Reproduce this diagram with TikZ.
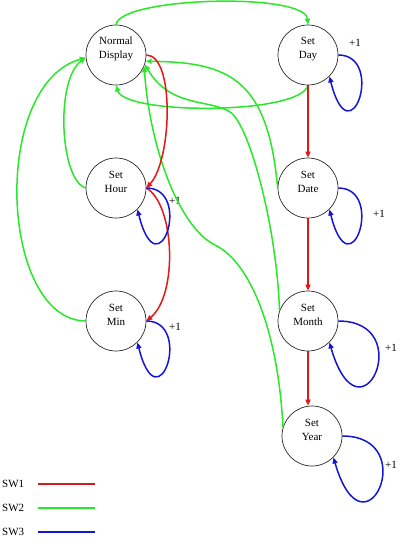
\documentclass[tikz,border=0pt]{standalone}
\usepackage{fontspec}
\setmainfont{Liberation Serif}
\usetikzlibrary{arrows.meta}
\definecolor{swred}{RGB}{228,22,22}
\definecolor{swgreen}{RGB}{40,232,40}
\definecolor{swblue}{RGB}{20,20,212}
\definecolor{legred}{RGB}{205,30,30}
\begin{document}
\begin{tikzpicture}[x=1pt,y=-1pt,
  state/.style={circle,draw=black!85,line width=0.7pt,minimum size=60pt,inner sep=0pt},
  lbl/.style={align=center,font=\fontsize{11}{14}\selectfont,inner sep=0pt},
  plus/.style={font=\fontsize{11}{13}\selectfont,inner sep=0pt},
  tipped/.style={-{Triangle[length=6pt,width=5pt]}},
  redge/.style={draw=swred,line width=1.5pt,tipped},
  gedge/.style={draw=swgreen,line width=1.5pt,tipped},
  bedge/.style={draw=swblue,line width=1.5pt,tipped},
  legline/.style={line width=2pt}
]
\useasboundingbox (0,0) rectangle (412,552);

% states
\node[state] (disp) at (116,55) {};
\node[state] (day) at (308,55) {};
\node[state] (hour) at (116,188) {};
\node[state] (date) at (308,188) {};
\node[state] (min) at (116,321) {};
\node[state] (month) at (308,321) {};
\node[state] (year) at (312,436) {};

\node[lbl] (dispT) at ([yshift=6pt]disp.center) {Normal\\Display};
\node[lbl] (dayT) at ([yshift=6pt]day.center) {Set\\Day};
\node[lbl] (hourT) at ([yshift=6pt]hour.center) {Set\\Hour};
\node[lbl] (dateT) at ([yshift=6pt]date.center) {Set\\Date};
\node[lbl] (minT) at ([yshift=6pt]min.center) {Set\\Min};
\node[lbl] (monthT) at ([yshift=6pt]month.center) {Set\\Month};
\node[lbl] (yearT) at ([yshift=6pt]year.center) {Set\\Year};

% +1 labels
\node[plus] (p1) at (355,43) {+1};
\node[plus] (p2) at (175,201) {+1};
\node[plus] (p3) at (379,214) {+1};
\node[plus] (p4) at (175,327) {+1};
\node[plus] (p5) at (391,348) {+1};
\node[plus] (p6) at (391,465) {+1};

% bend points
\coordinate (mbend) at (230,112);
\coordinate (ybend) at (215,245);

% green (SW2)
\draw[gedge] (disp.north) .. controls (120,-3) and (305,-8) .. (day.north);
\draw[gedge] (day.south) .. controls (300,115) and (125,115) .. (disp.south);
\draw[gedge] (hour.west) .. controls (60,180) and (55,80) .. (disp.185);
\draw[gedge] (min.west) .. controls (0,320) and (-10,85) .. (disp.185);
\draw[gedge] (date.west) .. controls (268,80) and (230,62) .. (disp.-12);
\draw[gedge] (month.160) .. controls (277,230) and (250,125) .. (mbend)
  .. controls (210,99) and (170,108) .. (disp.-18);
\draw[gedge] (year.163) .. controls (278,330) and (250,262) .. (ybend)
  .. controls (180,228) and (150,150) .. (disp.-22);

% red (SW1)
\draw[redge] (disp.east) .. controls (175,55) and (172,160) .. (hour.east);
\draw[redge] (hour.east) .. controls (175,205) and (178,295) .. (min.east);
\draw[redge] (day.south) -- (date.north);
\draw[redge] (date.south) -- (month.north);
\draw[redge] (month.south) -- (month.south |- year.north);

% blue (SW3) self loops
\draw[bedge] (day.east) .. controls +(47,0) and +(21,84) .. (day.-45);
\draw[bedge] (hour.east) .. controls +(47,0) and +(21,84) .. (hour.-45);
\draw[bedge] (date.east) .. controls +(47,0) and +(21,84) .. (date.-45);
\draw[bedge] (min.east) .. controls +(47,0) and +(21,84) .. (min.-45);
\draw[bedge] (month.east) .. controls +(80,0) and +(31,107) .. (month.-45);
\draw[bedge] (year.east) .. controls +(80,0) and +(31,107) .. (year.-45);

% legend
\node[plus,anchor=west] (sw1) at (2,484) {SW1};
\node[plus,anchor=west] (sw2) at (2,508) {SW2};
\node[plus,anchor=west] (sw3) at (2,532) {SW3};
\coordinate (l1a) at (38,484); \coordinate (l1b) at (95,484);
\coordinate (l2a) at (38,508); \coordinate (l2b) at (95,508);
\coordinate (l3a) at (38,532); \coordinate (l3b) at (95,532);
\draw[legline,draw=legred] (l1a) -- (l1b);
\draw[legline,draw=swgreen] (l2a) -- (l2b);
\draw[legline,draw=swblue] (l3a) -- (l3b);
\end{tikzpicture}
\end{document}
